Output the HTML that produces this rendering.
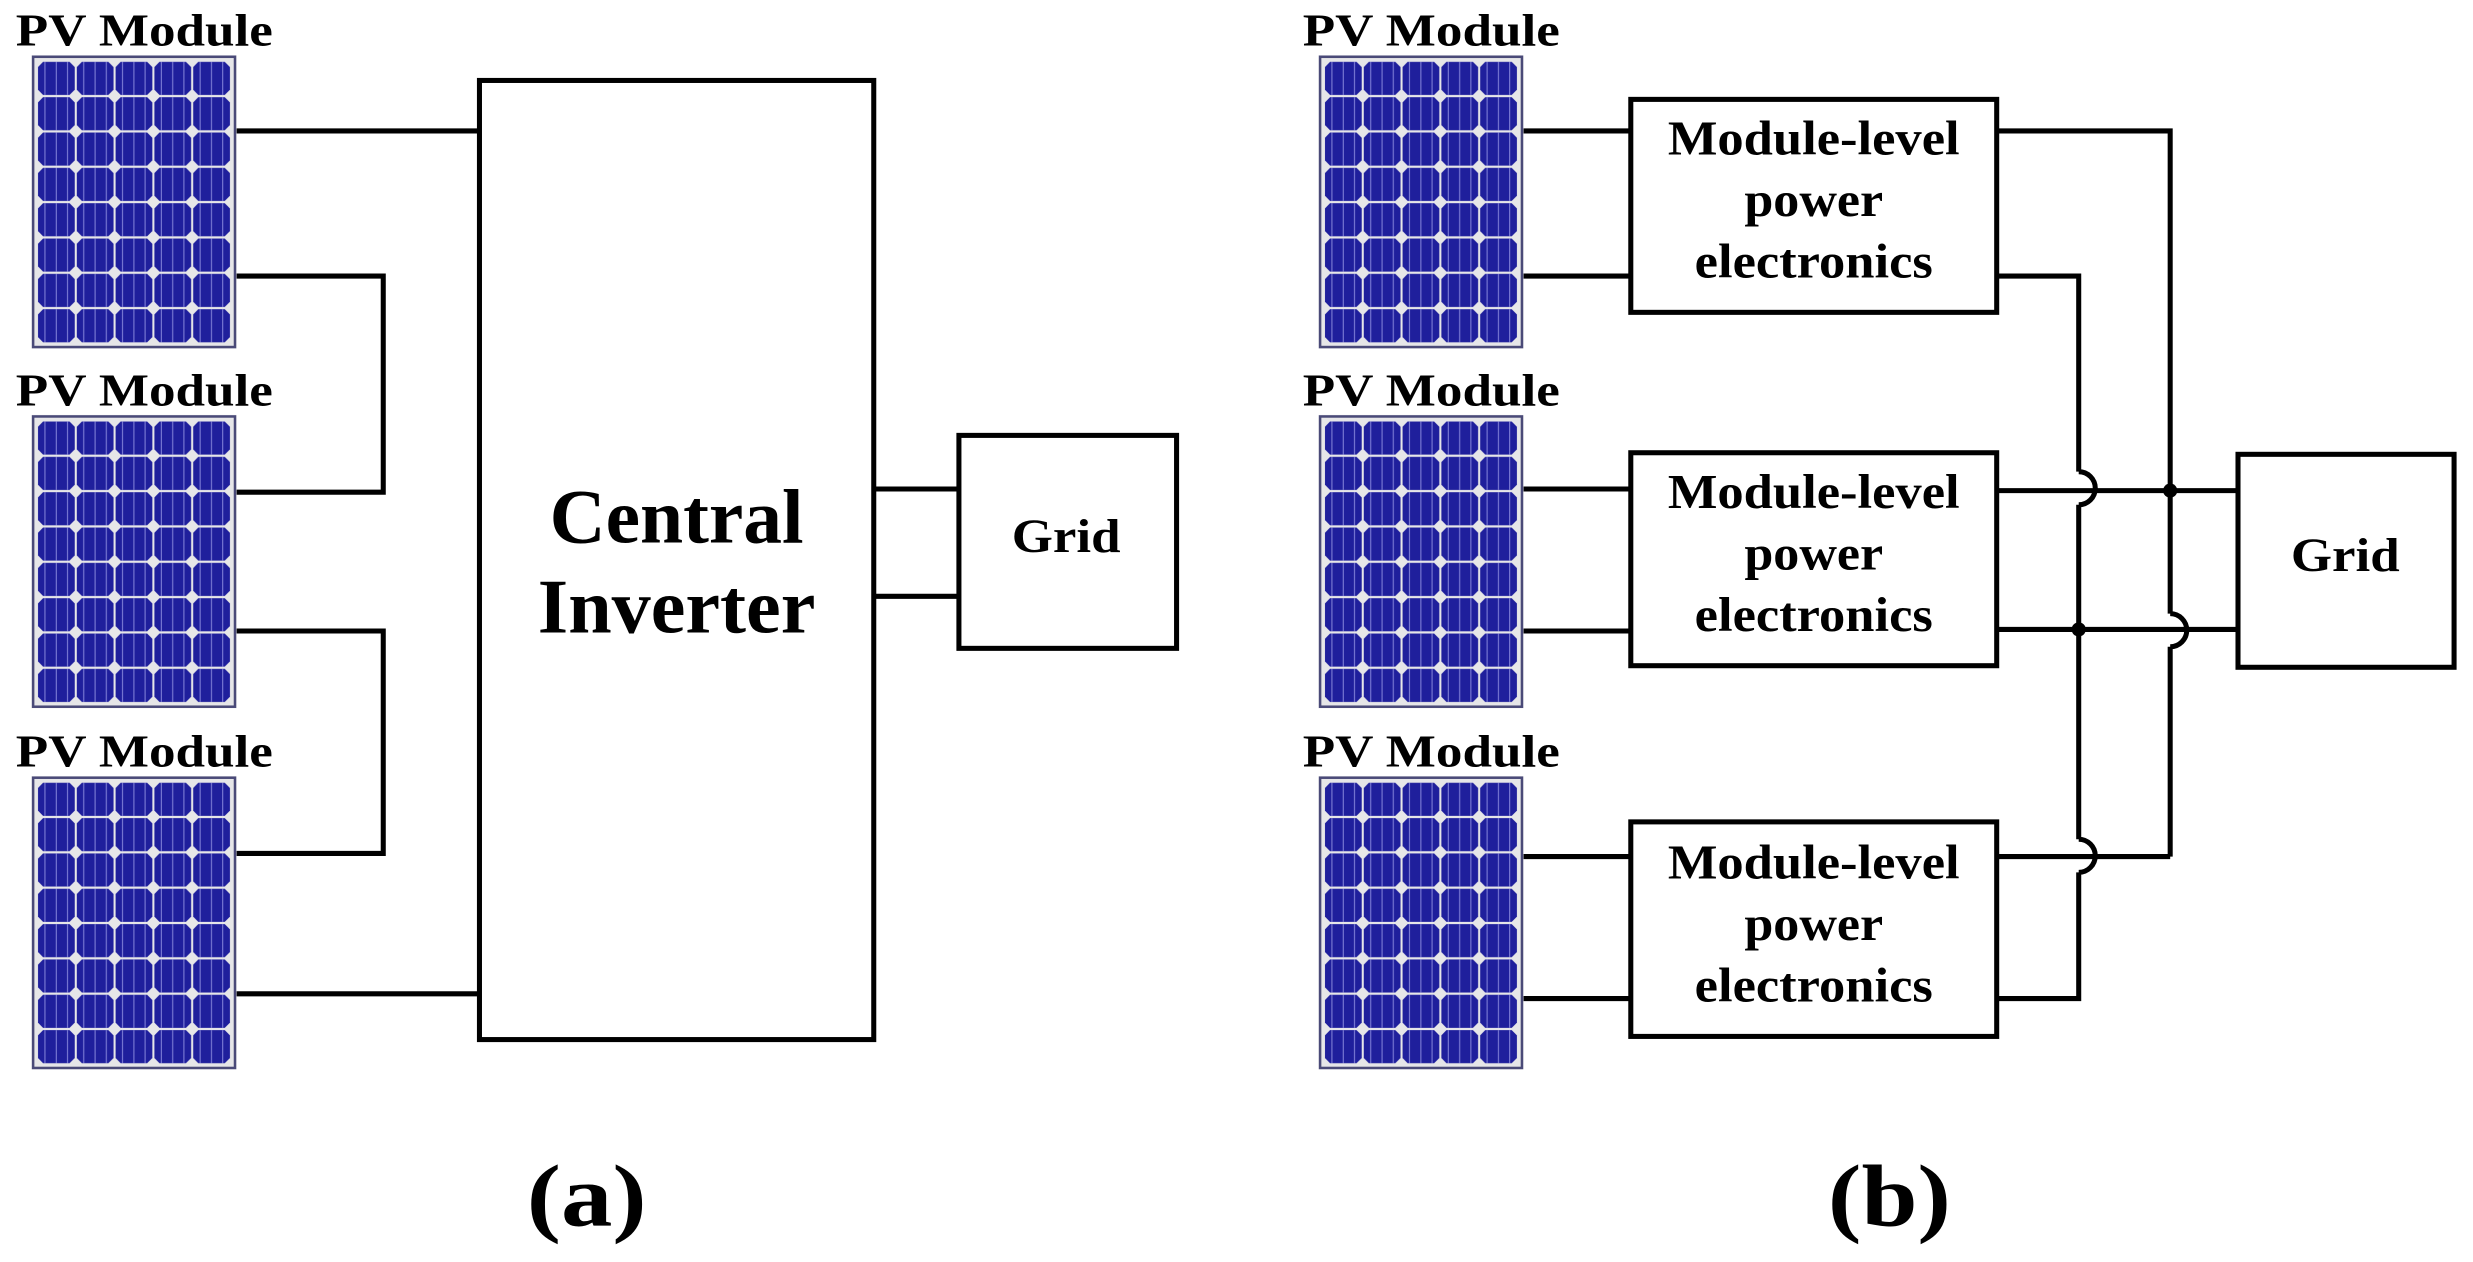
<!DOCTYPE html>
<html><head><meta charset="utf-8"><style>
html,body{margin:0;padding:0;background:#fff;}
svg{display:block;}
text{font-family:"Liberation Serif",serif;font-weight:bold;fill:#000;}
</style></head><body>
<svg width="2473" height="1262" viewBox="0 0 1568 800" preserveAspectRatio="none" xmlns="http://www.w3.org/2000/svg">
<defs>
<pattern id="cells" x="3.5" y="3.5" width="24.6" height="22.4" patternUnits="userSpaceOnUse">
<polygon points="3.8,0.7 20.6,0.7 23.9,4 23.9,18.4 20.6,21.7 3.8,21.7 0.6,18.4 0.6,4" fill="#1f1f9c"/>
<line x1="5" y1="0.7" x2="5" y2="21.7" stroke="#7e7ed6" stroke-width="0.7"/>
<line x1="12.2" y1="0.7" x2="12.2" y2="21.7" stroke="#7e7ed6" stroke-width="0.7"/>
<line x1="19.3" y1="0.7" x2="19.3" y2="21.7" stroke="#7e7ed6" stroke-width="0.7"/>
</pattern>
<g id="panel">
<rect x="0" y="0" width="130" height="186" fill="#e6e6e8"/>
<rect x="1" y="1" width="128" height="184" fill="none" stroke="#4a4a78" stroke-width="1.6"/>
<rect x="3.5" y="3.5" width="123" height="179.2" fill="url(#cells)"/>
</g>
</defs>

<g stroke="#000" stroke-width="3.2" fill="none" stroke-linejoin="miter">
<rect x="304" y="51" width="250" height="608"/>
<rect x="608" y="276" width="138" height="135"/>
<line x1="150" y1="83" x2="304" y2="83"/>
<polyline points="150,175 243,175 243,312 150,312"/>
<polyline points="150,400 243,400 243,541 150,541"/>
<line x1="150" y1="630" x2="304" y2="630"/>
<line x1="554" y1="310" x2="608" y2="310"/>
<line x1="554" y1="378" x2="608" y2="378"/>

<rect x="1034" y="63" width="232" height="135"/>
<rect x="1034" y="287" width="232" height="135"/>
<rect x="1034" y="521" width="232" height="136"/>
<rect x="1419" y="288" width="137" height="135"/>
<line x1="966" y1="83" x2="1034" y2="83"/>
<line x1="966" y1="175" x2="1034" y2="175"/>
<line x1="966" y1="310" x2="1034" y2="310"/>
<line x1="966" y1="400" x2="1034" y2="400"/>
<line x1="966" y1="543" x2="1034" y2="543"/>
<line x1="966" y1="633" x2="1034" y2="633"/>
<polyline points="1266,83 1376,83 1376,389"/>
<path d="M1376,389 A10.5,10.5 0 0 1 1376,410"/>
<line x1="1376" y1="410" x2="1376" y2="543"/>
<line x1="1266" y1="543" x2="1376" y2="543"/>
<polyline points="1266,175 1318,175 1318,299"/>
<path d="M1318,299 A10.5,10.5 0 0 1 1318,320"/>
<line x1="1318" y1="320" x2="1318" y2="532"/>
<path d="M1318,532 A10.5,10.5 0 0 1 1318,553"/>
<polyline points="1318,553 1318,633 1266,633"/>
<line x1="1266" y1="311" x2="1419" y2="311"/>
<line x1="1266" y1="399" x2="1419" y2="399"/>
</g>
<circle cx="1376" cy="311" r="4.5" fill="#000"/>
<circle cx="1318" cy="399" r="4.5" fill="#000"/>

<use href="#panel" x="20" y="35"/>
<use href="#panel" x="20" y="263"/>
<use href="#panel" x="20" y="492"/>
<use href="#panel" x="836" y="35"/>
<use href="#panel" x="836" y="263"/>
<use href="#panel" x="836" y="492"/>

<g font-size="29" lengthAdjust="spacingAndGlyphs">
<text x="10" y="29" textLength="163" lengthAdjust="spacingAndGlyphs">PV Module</text>
<text x="10" y="257" textLength="163" lengthAdjust="spacingAndGlyphs">PV Module</text>
<text x="10" y="486" textLength="163" lengthAdjust="spacingAndGlyphs">PV Module</text>
<text x="826" y="29" textLength="163" lengthAdjust="spacingAndGlyphs">PV Module</text>
<text x="826" y="257" textLength="163" lengthAdjust="spacingAndGlyphs">PV Module</text>
<text x="826" y="486" textLength="163" lengthAdjust="spacingAndGlyphs">PV Module</text>
</g>
<g text-anchor="middle">
<text x="429" y="344" font-size="49" textLength="161" lengthAdjust="spacingAndGlyphs">Central</text>
<text x="429" y="401" font-size="49" textLength="176" lengthAdjust="spacingAndGlyphs">Inverter</text>
<text x="676" y="350" font-size="30" textLength="69" lengthAdjust="spacingAndGlyphs">Grid</text>
<text x="1487" y="362" font-size="30" textLength="69" lengthAdjust="spacingAndGlyphs">Grid</text>
<g font-size="31">
<text x="1150" y="98" textLength="185" lengthAdjust="spacingAndGlyphs">Module-level</text>
<text x="1150" y="137" textLength="88" lengthAdjust="spacingAndGlyphs">power</text>
<text x="1150" y="176" textLength="151" lengthAdjust="spacingAndGlyphs">electronics</text>
<text x="1150" y="322" textLength="185" lengthAdjust="spacingAndGlyphs">Module-level</text>
<text x="1150" y="361" textLength="88" lengthAdjust="spacingAndGlyphs">power</text>
<text x="1150" y="400" textLength="151" lengthAdjust="spacingAndGlyphs">electronics</text>
<text x="1150" y="557" textLength="185" lengthAdjust="spacingAndGlyphs">Module-level</text>
<text x="1150" y="596" textLength="88" lengthAdjust="spacingAndGlyphs">power</text>
<text x="1150" y="635" textLength="151" lengthAdjust="spacingAndGlyphs">electronics</text>
</g>
<text x="372" y="777" font-size="56" textLength="76" lengthAdjust="spacingAndGlyphs">(a)</text>
<text x="1198" y="777" font-size="56" textLength="78" lengthAdjust="spacingAndGlyphs">(b)</text>
</g>
</svg>
</body></html>
